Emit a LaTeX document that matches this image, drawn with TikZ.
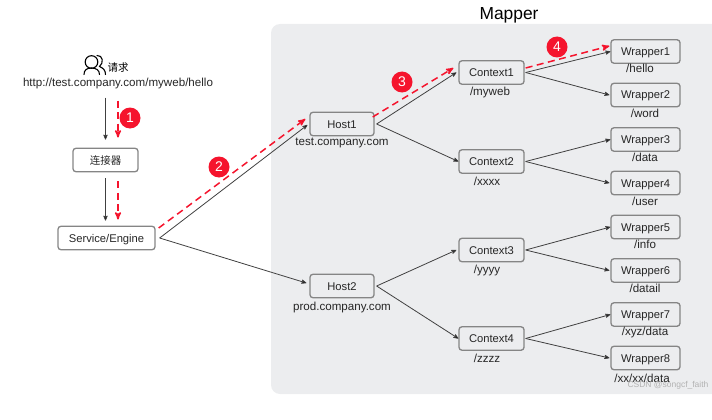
\documentclass[tikz,border=0pt]{standalone}
\usepackage{fontspec}
\setmainfont{Liberation Sans}
\newfontfamily\cjk{Noto Sans CJK SC}
\usetikzlibrary{positioning, arrows}
\definecolor{panelgray}{HTML}{ECEDEF}
\definecolor{boxgray}{HTML}{858585}
\definecolor{linegray}{HTML}{404040}
\definecolor{stepred}{HTML}{F5142D}
\tikzset{
>=stealth', % arrow heads
box/.style={draw=boxgray, line width=1.3pt, rounded corners=3pt, minimum height=23.5pt, inner sep=0pt, text height=8pt, text depth=0pt, font=\fontsize{11.2}{13}\selectfont, text=black!85},
hostbox/.style={box, minimum width=64pt},
ctxbox/.style={box, minimum width=65pt},
wrapbox/.style={box, minimum width=69pt},
path/.style={font=\fontsize{11.6}{13}\selectfont, text=black!85, inner sep=0pt},
flow/.style={draw=linegray, line width=0.8pt, every edge/.append style={->}},
redflow/.style={draw=stepred, line width=1.5pt, dash pattern=on 7pt off 4.5pt, every edge/.append style={->}},
badge/.style={circle, fill=stepred, text=white, minimum size=21pt, inner sep=0pt, font=\fontsize{14}{16}\selectfont},
}

\begin{document}
\begin{tikzpicture}[x=1pt, y=-1pt]
    \useasboundingbox (0,0) rectangle (712,420);
    \fill[panelgray, rounded corners=9pt] (271,24) -- (730,24) -- (730,394) -- (271,394) -- cycle;
    \node[font=\fontsize{17.4}{19}\selectfont] (mapper) at (509,15) {Mapper};

    % request icon
    \begin{scope}[draw=black, line width=1.1pt, line cap=round]
        \draw (97,55.5) .. controls (103,55) and (104,63) .. (99.5,66.5) .. controls (103,68) and (105.5,70) .. (105.5,74.5);
        \draw (91.5,62) circle (6.3);
        \draw (84,74.5) .. controls (84,70) and (87,68) .. (91.5,68) .. controls (96,68) and (99.5,70) .. (99.5,74.5);
    \end{scope}
    \node[font=\fontsize{10.5}{12}\selectfont\cjk, inner sep=0pt] (req) at (118,68) {请求};
    \node[path] (url) at (118,84) {http://test.company.com/myweb/hello};

    \node[box, minimum width=65pt, font=\fontsize{10.5}{12}\selectfont\cjk] (conn) at (105.5,160) {连接器};
    \node[box, minimum width=97pt] (engine) at (106.5,238) {Service/Engine};

    \node[hostbox] (host1) at (342,124) {Host1};
    \node[hostbox] (host2) at (342,286) {Host2};
    \node[path] (host1l) at (342,143) {test.company.com};
    \node[path] (host2l) at (342,307) {prod.company.com};

    \node[ctxbox] (ctx1) at (491.5,72.5) {Context1};
    \node[ctxbox] (ctx2) at (491.5,161.5) {Context2};
    \node[ctxbox] (ctx3) at (491.5,250) {Context3};
    \node[ctxbox] (ctx4) at (491.5,338.5) {Context4};
    \node[path] (ctx1l) at (490,93) {/myweb};
    \node[path] (ctx2l) at (487,181) {/xxxx};
    \node[path] (ctx3l) at (487,270) {/yyyy};
    \node[path] (ctx4l) at (487,358) {/zzzz};

    \node[wrapbox] (wrap1) at (645.5,51.5) {Wrapper1};
    \node[wrapbox] (wrap2) at (645.5,95) {Wrapper2};
    \node[wrapbox] (wrap3) at (645.5,139.5) {Wrapper3};
    \node[wrapbox] (wrap4) at (645.5,183) {Wrapper4};
    \node[wrapbox] (wrap5) at (645.5,227) {Wrapper5};
    \node[wrapbox] (wrap6) at (645.5,270.5) {Wrapper6};
    \node[wrapbox] (wrap7) at (645.5,314.5) {Wrapper7};
    \node[wrapbox] (wrap8) at (645.5,358) {Wrapper8};
    \node[path] (wrap1l) at (640,68.5) {/hello};
    \node[path] (wrap2l) at (645,113) {/word};
    \node[path] (wrap3l) at (645,157) {/data};
    \node[path] (wrap4l) at (645,201) {/user};
    \node[path] (wrap5l) at (645,244) {/info};
    \node[path] (wrap6l) at (645,288) {/datail};
    \node[path] (wrap7l) at (645,332) {/xyz/data};
    \node[path] (wrap8l) at (642,378) {/xx/xx/data};
    \node[font=\fontsize{8.5}{10}\selectfont, text=black!30, inner sep=0pt] (mark) at (668,385.5) {CSDN @songcf\_faith};

    \draw[flow]
        ([xshift=-12.5pt, yshift=-8pt]url.south) edge ([yshift=8pt]conn.north)
        ([yshift=-6pt]conn.south) edge ([xshift=-1pt, yshift=5pt]engine.north)
        ([xshift=4pt]engine.east) edge ([xshift=-2pt, yshift=-1pt]host1.west)
        ([xshift=4pt]engine.east) edge ([xshift=-3pt, yshift=3pt]host2.west)
        ([xshift=2pt]host1.east) edge ([xshift=-2pt]ctx1.west)
        ([xshift=2pt]host1.east) edge (ctx2.west)
        ([xshift=2pt]host2.east) edge ([xshift=-2pt]ctx3.west)
        ([xshift=2pt]host2.east) edge (ctx4.west)
        ([xshift=1pt]ctx1.east) edge (wrap1.west)
        ([xshift=1pt]ctx1.east) edge ([xshift=-1pt]wrap2.west)
        ([xshift=1pt]ctx2.east) edge (wrap3.west)
        ([xshift=1pt]ctx2.east) edge ([xshift=-1pt]wrap4.west)
        ([xshift=1pt]ctx3.east) edge (wrap5.west)
        ([xshift=1pt]ctx3.east) edge ([xshift=-1pt]wrap6.west)
        ([xshift=1pt]ctx4.east) edge (wrap7.west)
        ([xshift=1pt]ctx4.east) edge ([xshift=-1pt]wrap8.west)
        ;

    \draw[redflow]
        ([yshift=-11pt]url.south) edge ([xshift=12.5pt, yshift=10pt]conn.north)
        ([xshift=12.5pt, yshift=-9pt]conn.south) edge ([xshift=11.5pt, yshift=6pt]engine.north)
        ([xshift=3pt, yshift=10pt]engine.east) edge ([xshift=-4pt, yshift=5pt]host1.west)
        ([xshift=-2pt, yshift=7pt]host1.east) edge ([xshift=-5pt, yshift=4.5pt]ctx1.west)
        ([xshift=1pt, yshift=4.5pt]ctx1.east) edge ([xshift=-1pt, yshift=5.5pt]wrap1.west)
        ;

    \node[badge] (step1) at (130,118) {1};
    \node[badge] (step2) at (219,167) {2};
    \node[badge] (step3) at (402,82) {3};
    \node[badge] (step4) at (557,47) {4};
\end{tikzpicture}
\end{document}
